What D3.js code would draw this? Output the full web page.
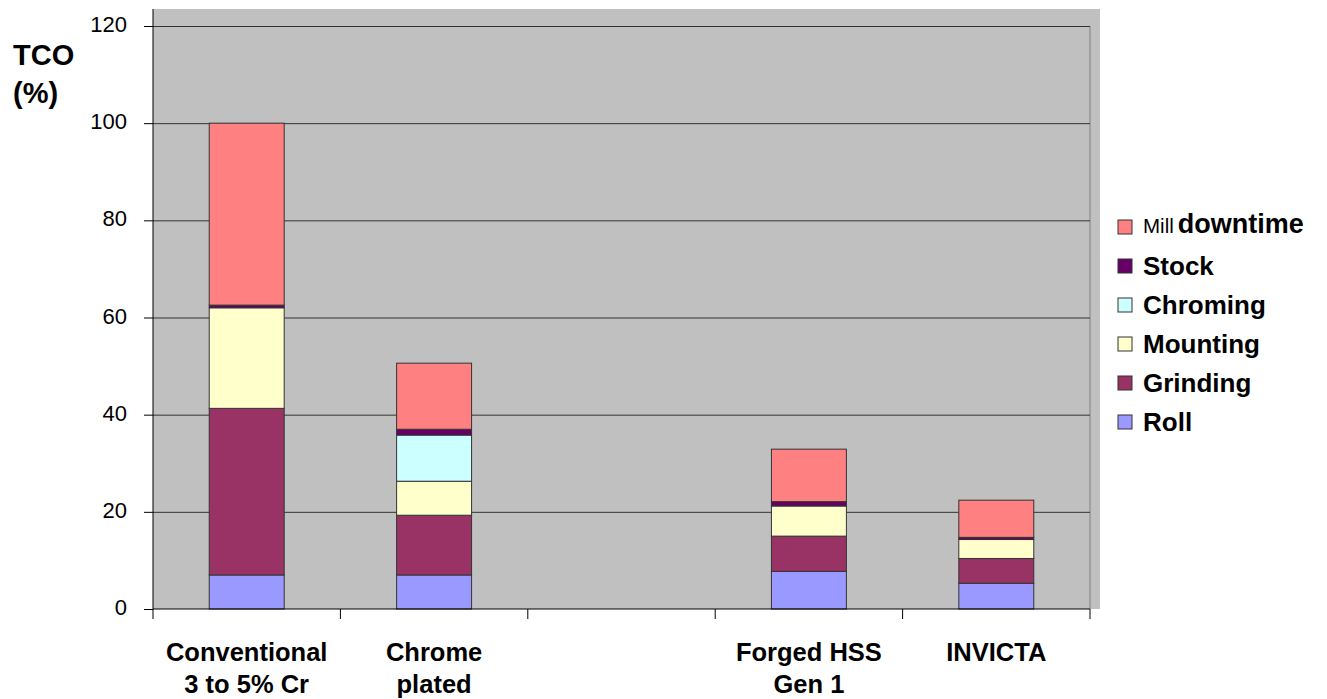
<!DOCTYPE html>
<html>
<head>
<meta charset="utf-8">
<script src="https://cdn.jsdelivr.net/npm/d3@7"></script>
<style>
  body { margin: 0; background: #fff; }
  svg { display: block; font-family: "Liberation Sans", Arial, sans-serif; }
</style>
</head>
<body>
<svg id="chart" width="1327" height="699"></svg>
<script>
// categories, one entry per band (third band is left empty)
const categories = ["conv", "chrome", "gap", "forged", "invicta"];
const categoryLabels = [
  ["Conventional", "3 to 5% Cr"],
  ["Chrome", "plated"],
  [],
  ["Forged HSS", "Gen 1"],
  ["INVICTA"]
];

// series, bottom to top
const seriesNames = ["Roll", "Grinding", "Mounting", "Chroming", "Stock", "Mill downtime"];
const seriesColors = ["#9999ff", "#993366", "#ffffcc", "#ccffff", "#660066", "#ff8080"];

const roll         = [7.0,  7.0,  0, 7.75, 5.3];
const grinding     = [34.3, 12.3, 0, 7.25, 5.1];
const mounting     = [20.7, 7.0,  0, 6.2,  3.9];
const chroming     = [0,    9.5,  0, 0,    0];
const stock        = [0.55, 1.2,  0, 0.9,  0.45];
const millDowntime = [37.45, 13.6, 0, 10.8, 7.65];

const yTicks = [0, 20, 40, 60, 80, 100, 120];

const svg = d3.select("#chart");

const x = d3.scaleBand().domain(categories).range([153, 1090]);
const y = d3.scaleLinear().domain([0, 120]).range([609, 26]);

// plot background
svg.append("rect")
  .attr("x", 153).attr("y", 9)
  .attr("width", 1100 - 153).attr("height", 609 - 9)
  .attr("fill", "#c0c0c0");

svg.append("line")
  .attr("x1", 1090).attr("x2", 1090)
  .attr("y1", y(120)).attr("y2", y(0))
  .attr("stroke", "#808080");

// gridlines
const grid = svg.append("g")
  .attr("transform", "translate(153,0)")
  .call(d3.axisLeft(y).tickValues(yTicks.slice(1)).tickSize(-(1090 - 153)).tickFormat(""));
grid.select(".domain").remove();
grid.selectAll("line").attr("stroke", "#333");

// stacked bars
const rows = categories.map((c, i) => ({
  cat: c,
  "Roll": roll[i],
  "Grinding": grinding[i],
  "Mounting": mounting[i],
  "Chroming": chroming[i],
  "Stock": stock[i],
  "Mill downtime": millDowntime[i]
}));
const stacked = d3.stack().keys(seriesNames)(rows);
const barW = x.bandwidth() * 0.4;

svg.append("g")
  .selectAll("g")
  .data(stacked)
  .join("g")
    .attr("fill", (d, i) => seriesColors[i])
  .selectAll("rect")
  .data(d => d.filter(p => p[1] - p[0] > 0))
  .join("rect")
    .attr("x", d => x(d.data.cat) + (x.bandwidth() - barW) / 2)
    .attr("y", d => y(d[1]))
    .attr("width", barW)
    .attr("height", d => y(d[0]) - y(d[1]))
    .attr("stroke", "#333")
    .attr("stroke-width", 1);

// y axis
const yAxis = svg.append("g")
  .attr("transform", "translate(153,0)")
  .call(d3.axisLeft(y).tickValues(yTicks).tickSize(9).tickPadding(17));
yAxis.select(".domain").remove();
yAxis.selectAll("line").attr("stroke", "#000");
yAxis.selectAll("text")
  .attr("font-size", 22)
  .attr("dy", "0.25em")
  .attr("font-family", "Liberation Sans, Arial, sans-serif")
  .attr("fill", "#000");

svg.append("line")
  .attr("x1", 153).attr("x2", 153)
  .attr("y1", 9).attr("y2", y(0))
  .attr("stroke", "#000");

// x axis
svg.append("line")
  .attr("x1", 153).attr("x2", 1090)
  .attr("y1", y(0)).attr("y2", y(0))
  .attr("stroke", "#000");

const bounds = categories.map(c => x(c)).concat([x.range()[1]]);
svg.append("g")
  .selectAll("line")
  .data(bounds)
  .join("line")
    .attr("x1", d => d).attr("x2", d => d)
    .attr("y1", y(0)).attr("y2", y(0) + 10)
    .attr("stroke", "#000");

const xLabels = svg.append("g")
  .attr("font-size", 25.5)
  .attr("font-weight", "bold")
  .attr("text-anchor", "middle");

categories.forEach((c, i) => {
  categoryLabels[i].forEach((line, j) => {
    xLabels.append("text")
      .attr("x", x(c) + x.bandwidth() / 2)
      .attr("y", 661 + j * 32)
      .text(line);
  });
});

// y title
const title = svg.append("g").attr("font-size", 29).attr("font-weight", "bold");
title.append("text").attr("x", 13).attr("y", 65).text("TCO");
title.append("text").attr("x", 13).attr("y", 103).text("(%)");

// legend, top item is the last series
const legendItems = seriesNames.map((n, i) => ({ name: n, color: seriesColors[i] })).reverse();
const legend = svg.append("g");
const item = legend.selectAll("g")
  .data(legendItems)
  .join("g")
    .attr("transform", (d, i) => `translate(1118,${227 + i * 39})`);

item.append("rect")
  .attr("x", 0).attr("y", -7)
  .attr("width", 14).attr("height", 14)
  .attr("fill", d => d.color)
  .attr("stroke", "#333");

item.append("text")
  .attr("x", 25)
  .attr("dy", "0.36em")
  .each(function(d) {
    const t = d3.select(this);
    if (d.name === "Mill downtime") {
      t.append("tspan").attr("font-size", 20.5).text("Mill");
      t.append("tspan").attr("dx", 4).attr("font-size", 27).attr("font-weight", "bold").text("downtime");
    } else {
      t.attr("font-size", 26).attr("font-weight", "bold").text(d.name);
    }
  });
</script>
</body>
</html>
